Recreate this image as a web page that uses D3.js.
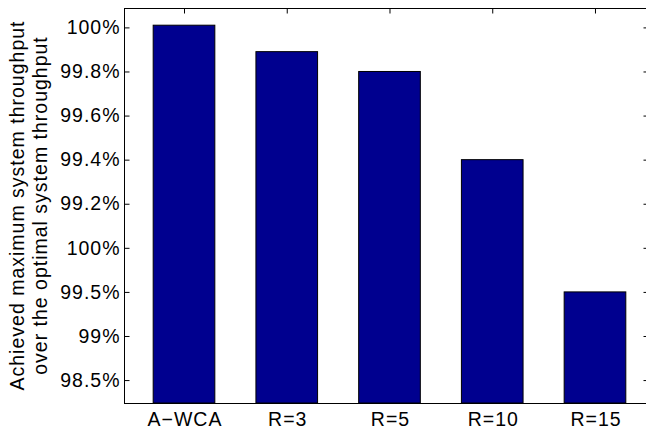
<!DOCTYPE html>
<html>
<head>
<meta charset="utf-8">
<script src="https://cdn.jsdelivr.net/npm/d3@7/dist/d3.min.js"></script>
<style>
  html, body { margin: 0; padding: 0; background: #fff; }
  svg { display: block; }
  text { font-family: "Liberation Sans", Arial, Helvetica, sans-serif; fill: #000; }
</style>
</head>
<body>
<svg id="chart" width="646" height="433"></svg>
<script>
// ---- data ----
const categories = ["A\u2212WCA", "R=3", "R=5", "R=10", "R=15"];
const values = [100.01, 99.89, 99.80, 99.40, 98.80];
const yTickValues = [100, 99.8, 99.6, 99.4, 99.2, 99.0, 98.8, 98.6, 98.4];
const yTickLabels = ["100%", "99.8%", "99.6%", "99.4%", "99.2%", "100%", "99.5%", "99%", "98.5%"];
const yLabelLines = ["Achieved maximum system throughput", "over the optimal system throughput"];

// ---- layout ----
const W = 646, H = 433;
const plot = { left: 124, right: 648, top: 8, bottom: 403 };
const fontSize = 19.5;
const letterSpacing = 1.0;

const svg = d3.select("#chart");

const xIdx = categories.map((d, i) => i + 1);
const x = d3.scaleLinear().domain([0.416, 5.516]).range([plot.left, plot.right]);
const y = d3.scaleLinear().domain([98.296, 100.088]).range([plot.bottom, plot.top]);
const barW = x(1.3) - x(0.7);

// bars
svg.append("g").selectAll("rect")
  .data(values)
  .join("rect")
  .attr("x", (d, i) => x(xIdx[i]) - barW / 2)
  .attr("y", d => y(d))
  .attr("width", barW)
  .attr("height", d => plot.bottom - y(d))
  .attr("fill", "#00008f")
  .attr("stroke", "#000")
  .attr("stroke-width", 1);

// axes box
svg.append("rect")
  .attr("x", plot.left + 0.5).attr("y", plot.top + 0.5)
  .attr("width", plot.right - plot.left).attr("height", plot.bottom - plot.top)
  .attr("fill", "none").attr("stroke", "#000").attr("stroke-width", 1);

// left axis
const yAxis = d3.axisLeft(y)
  .tickValues(yTickValues)
  .tickFormat((d, i) => yTickLabels[i])
  .tickSizeInner(-5).tickSizeOuter(0).tickPadding(5 - letterSpacing);
const gy = svg.append("g").attr("transform", `translate(${plot.left + 0.5},0)`).call(yAxis);
gy.select(".domain").remove();
gy.selectAll("line").attr("stroke", "#000");
gy.attr("font-family", null).attr("font-size", null);
gy.selectAll("text")
  .style("font-size", fontSize + "px")
  .style("letter-spacing", letterSpacing + "px");

// right axis ticks
const yAxisR = d3.axisRight(y)
  .tickValues(yTickValues)
  .tickFormat("")
  .tickSizeInner(-5).tickSizeOuter(0);
const gyr = svg.append("g").attr("transform", `translate(${plot.right + 0.5},0)`).call(yAxisR);
gyr.select(".domain").remove();
gyr.selectAll("line").attr("stroke", "#000");

// top axis ticks
const xAxisTop = d3.axisTop(x)
  .tickValues(xIdx)
  .tickFormat("")
  .tickSizeInner(-5).tickSizeOuter(0);
const gxt = svg.append("g").attr("transform", `translate(0,${plot.top + 0.5})`).call(xAxisTop);
gxt.select(".domain").remove();
gxt.selectAll("line").attr("stroke", "#000");

// bottom axis labels
const xAxis = d3.axisBottom(x)
  .tickValues(xIdx)
  .tickFormat((d, i) => categories[i])
  .tickSize(0).tickPadding(9.5);
const gx = svg.append("g").attr("transform", `translate(0,${plot.bottom})`).call(xAxis);
gx.select(".domain").remove();
gx.attr("font-family", null).attr("font-size", null);
gx.selectAll("text")
  .style("font-size", fontSize + "px")
  .style("letter-spacing", letterSpacing + "px")
  .attr("dx", letterSpacing / 2);

// y label (two lines, rotated)
const cy = (plot.top + plot.bottom) / 2;
const lineX = [24, 47];
svg.append("g").selectAll("text")
  .data(yLabelLines)
  .join("text")
  .attr("transform", (d, i) => `translate(${lineX[i]},${cy}) rotate(-90)`)
  .attr("text-anchor", "middle")
  .style("font-size", fontSize + "px")
  .style("letter-spacing", letterSpacing + "px")
  .text(d => d);
</script>
</body>
</html>
